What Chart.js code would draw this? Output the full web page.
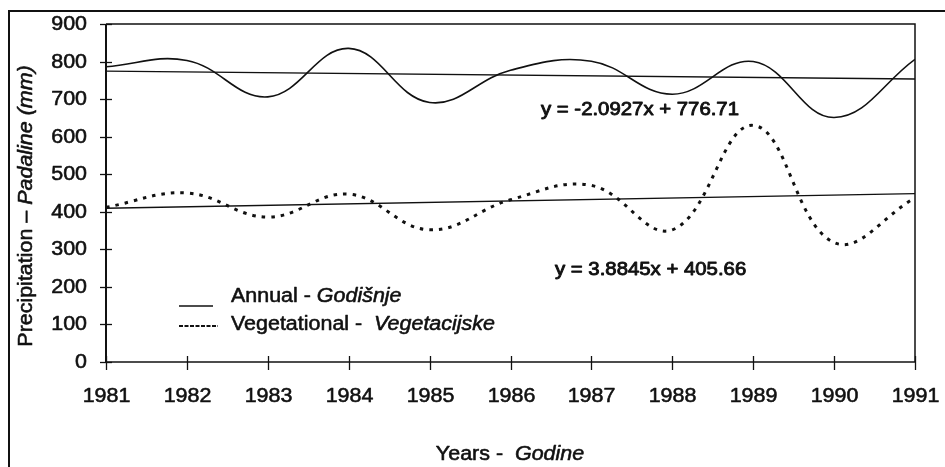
<!DOCTYPE html>
<html><head><meta charset="utf-8">
<script src="https://cdn.jsdelivr.net/npm/chart.js@4"></script>
<style>html,body{margin:0;padding:0;background:#fff;} #wrap{width:945px;height:467px;position:relative;}</style>
</head><body><div id="wrap"><canvas id="c" width="945" height="467"></canvas></div>
<script>
// ---- data ----
const years = [1981, 1982, 1983, 1984, 1985, 1986, 1987, 1988, 1989, 1990, 1991];
const annual = [786, 803, 706, 835, 691, 777, 801, 713, 800, 651, 806];
const vegetational = [412, 450, 386, 447, 352, 432, 470, 352, 630, 318, 437];
// linear trend lines (end values of the printed equations)
const trendYears = [1981, 1991];
const annualTrend = [774.6, 753.7];
const vegTrend = [409.5, 448.4];
const yTickValues = [0, 100, 200, 300, 400, 500, 600, 700, 800, 900];
const xTickValues = years;
const eqAnnual = 'y = -2.0927x + 776.71';
const eqVeg = 'y = 3.8845x + 405.66';
const yTitle = [{t: 'Precipitation \u2013 '}, {t: 'Padaline (mm)', i: true}];
const xTitle = [{t: 'Years -  '}, {t: 'Godine', i: true}];
const legendAnnual = [{t: 'Annual - '}, {t: 'Godi\u0161nje', i: true}];
const legendVeg = [{t: 'Vegetational -  '}, {t: 'Vegetacijske', i: true}];

const FAM = '"Liberation Sans", Arial, sans-serif';
const SX = 1.1;

function drawParts(ctx, parts, x, y, align, size, rot, heavy) {
  ctx.save();
  ctx.translate(x, y);
  if (rot) ctx.rotate(rot);
  ctx.scale(SX, 1);
  ctx.textBaseline = 'middle';
  ctx.textAlign = 'left';
  ctx.fillStyle = '#111';
  ctx.strokeStyle = '#111';
  ctx.lineWidth = heavy || 0.55;
  ctx.lineJoin = 'round';
  let total = 0;
  const widths = parts.map(p => {
    ctx.font = (p.i ? 'italic ' : '') + size + 'px ' + FAM;
    const w = ctx.measureText(p.t).width;
    total += w;
    return w;
  });
  let cx = align === 'center' ? -total / 2 : align === 'right' ? -total : 0;
  parts.forEach((p, k) => {
    ctx.font = (p.i ? 'italic ' : '') + size + 'px ' + FAM;
    ctx.fillText(p.t, cx, 0);
    ctx.strokeText(p.t, cx, 0);
    cx += widths[k];
  });
  ctx.restore();
}

const decor = {
  id: 'decor',
  afterDraw(chart) {
    const ctx = chart.ctx;
    const xs = chart.scales.x, ys = chart.scales.y;
    const a = chart.chartArea;
    ctx.save();
    ctx.strokeStyle = '#111';
    // outer frame (top and left)
    ctx.lineWidth = 2;
    ctx.beginPath();
    ctx.moveTo(9, 467); ctx.lineTo(9, 11); ctx.lineTo(945, 11);
    ctx.stroke();
    // plot frame
    ctx.lineWidth = 1.5;
    ctx.beginPath();
    ctx.moveTo(a.left, a.top); ctx.lineTo(a.right, a.top); ctx.lineTo(a.right, a.bottom);
    ctx.stroke();
    ctx.beginPath();
    ctx.moveTo(a.left, a.bottom); ctx.lineTo(a.right, a.bottom);
    ctx.stroke();
    ctx.lineWidth = 2;
    ctx.beginPath();
    ctx.moveTo(a.left, a.top); ctx.lineTo(a.left, a.bottom + 1);
    ctx.stroke();
    // ticks
    ctx.lineWidth = 1.3;
    yTickValues.forEach(v => {
      const y = Math.round(ys.getPixelForValue(v)) + 0.5;
      ctx.beginPath(); ctx.moveTo(a.left - 6, y); ctx.lineTo(a.left + 6, y); ctx.stroke();
      drawParts(ctx, [{t: String(v)}], 87, y + 0.5, 'right', 19.5);
    });
    xTickValues.forEach(v => {
      const x = Math.round(xs.getPixelForValue(v)) + 0.5;
      ctx.beginPath(); ctx.moveTo(x, a.bottom - 6); ctx.lineTo(x, a.bottom + 8); ctx.stroke();
      drawParts(ctx, [{t: String(v)}], x, 397, 'center', 19.5);
    });
    // axis titles
    drawParts(ctx, yTitle, 27, 206, 'center', 19.5, -Math.PI / 2);
    drawParts(ctx, xTitle, 510, 455, 'center', 19.5);
    // equations
    drawParts(ctx, [{t: eqAnnual}], 541, 110, 'left', 18.5, 0, 0.9);
    drawParts(ctx, [{t: eqVeg}], 555, 270, 'left', 18.5, 0, 0.9);
    // legend
    ctx.lineWidth = 1.5;
    ctx.setLineDash([]);
    ctx.beginPath(); ctx.moveTo(179, 306); ctx.lineTo(213, 306); ctx.stroke();
    ctx.setLineDash([4, 1.5]);
    ctx.lineWidth = 1.8;
    ctx.beginPath(); ctx.moveTo(179, 326); ctx.lineTo(218, 326); ctx.stroke();
    ctx.setLineDash([]);
    drawParts(ctx, legendAnnual, 231, 297, 'left', 19.5);
    drawParts(ctx, legendVeg, 231, 325, 'left', 19.5);
    ctx.restore();
  }
};

const toXY = (xsArr, ysArr) => xsArr.map((x, k) => ({x: x, y: ysArr[k]}));

new Chart(document.getElementById('c'), {
  type: 'line',
  data: {
    datasets: [
      {label: 'Annual trend', data: toXY(trendYears, annualTrend), borderColor: '#111', borderWidth: 1.4, pointRadius: 0, tension: 0},
      {label: 'Vegetational trend', data: toXY(trendYears, vegTrend), borderColor: '#111', borderWidth: 1.4, pointRadius: 0, tension: 0},
      {label: 'Annual - Godišnje', data: toXY(years, annual), borderColor: '#111', borderWidth: 1.6, pointRadius: 0, tension: 0.4},
      {label: 'Vegetational - Vegetacijske', data: toXY(years, vegetational), borderColor: '#111', borderWidth: 3, borderDash: [3.5, 6], pointRadius: 0, tension: 0.4}
    ]
  },
  options: {
    responsive: false,
    animation: false,
    devicePixelRatio: 1,
    layout: {padding: {left: 106, right: 30, top: 24, bottom: 105}},
    plugins: {legend: {display: false}, tooltip: {enabled: false}},
    scales: {
      x: {type: 'linear', display: false, min: 1981, max: 1991},
      y: {type: 'linear', display: false, min: 0, max: 900}
    }
  },
  plugins: [decor]
});
</script>
</body></html>
